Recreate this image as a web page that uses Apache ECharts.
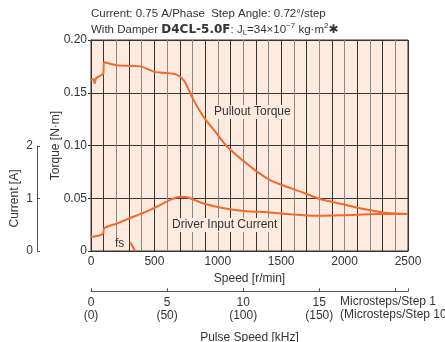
<!DOCTYPE html>
<html><head><meta charset="utf-8">
<script src="https://cdn.jsdelivr.net/npm/echarts@6/dist/echarts.min.js"></script>
<style>html,body{margin:0;padding:0;background:#fff}#c{width:445px;height:342px}</style>
</head><body><div id="c"></div>
<script>
// Pullout torque [N·m] vs speed [r/min]
const torqueSpeed = [0,5,18,29,40,58,84,97,103,203,388,493,572,678,730,770,809,888,967,1073,1205,1311,1416,1495,1680,1812,1996,2181,2339,2500];
const torqueValues = [0.162,0.162,0.163,0.159,0.164,0.165,0.167,0.168,0.179,0.176,0.175,0.170,0.169,0.167,0.162,0.153,0.143,0.127,0.115,0.099,0.085,0.075,0.067,0.063,0.055,0.049,0.044,0.039,0.036,0.035];
// Driver input current [A] vs speed [r/min]
const currentSpeed = [0,71,97,103,203,335,467,520,625,704,757,888,1047,1205,1416,1495,1680,1812,1996,2260,2500];
const currentValues = [0.27,0.30,0.34,0.43,0.52,0.65,0.78,0.84,0.97,1.03,1.02,0.90,0.81,0.76,0.73,0.71,0.68,0.67,0.68,0.70,0.70];
// fs (starting frequency) marker
const fsSpeed = [309,348];
const fsTorque = [0.0082,0];
const speedTicks = [0,500,1000,1500,2000,2500];
const pulseMax = 2500*500/60/1000; // kHz at 2500 r/min, 1 microstep
const torqueTicks = [0,0.05,0.10,0.15,0.20];
const currentTicks = [0,1,2];

const ORANGE = '#f26a2c';
const PEACH = '#fdebdf';
const DARK = '#3a3430';
const GRAY = '#8d8784';
const FONT = '"Liberation Sans", Arial, sans-serif';
const TXT = '#333';
const FS = 12;

const chart = echarts.init(document.getElementById('c'), null, {renderer:'canvas'});
const zip = (a,b)=>a.map((v,i)=>[v,b[i]]);

chart.setOption({
  animation:false,
  textStyle:{fontFamily:FONT},
  grid:[
    {left:91,right:37,top:40,bottom:91,show:true,backgroundColor:PEACH,borderColor:DARK,borderWidth:1,z:0},
    {left:37,width:1,top:146,bottom:91},
    {left:91,right:37,top:291,height:1}
  ],
  xAxis:[
    {gridIndex:0,type:'value',min:0,max:2500,interval:100,
     axisLine:{show:true,lineStyle:{color:DARK,width:1}},
     axisTick:{show:false},
     axisLabel:{color:TXT,fontSize:FS,fontFamily:FONT,margin:5,
       formatter:v=>speedTicks.indexOf(v)>=0?String(v):''},
     splitLine:{show:true,lineStyle:{color:[GRAY,DARK],width:1}},
     name:'Speed [r/min]',nameLocation:'middle',nameGap:17,
     nameTextStyle:{color:TXT,fontSize:FS,fontFamily:FONT}},
    {gridIndex:1,type:'value',min:0,max:1,show:false},
    {gridIndex:2,type:'value',min:0,max:pulseMax,interval:5,
     axisLine:{show:true,lineStyle:{color:'#555',width:1}},
     axisTick:{show:true,inside:true,length:3,lineStyle:{color:'#555'}},
     axisLabel:{color:TXT,fontSize:FS,fontFamily:FONT,margin:5,lineHeight:13,
       formatter:v=>(v%5===0 && v<=15)?(v+'\n('+(v*10)+')'):''},
     splitLine:{show:false},
     name:'Pulse Speed [kHz]',nameLocation:'middle',nameGap:40,
     nameTextStyle:{color:TXT,fontSize:FS,fontFamily:FONT}}
  ],
  yAxis:[
    {gridIndex:0,type:'value',min:0,max:0.2,interval:0.05,
     axisLine:{show:true,lineStyle:{color:DARK}},
     axisTick:{show:true,length:3,lineStyle:{color:DARK}},
     axisLabel:{color:TXT,fontSize:FS,fontFamily:FONT,margin:4,
       formatter:v=>v===0?'0':v.toFixed(2)},
     splitLine:{show:true,lineStyle:{color:DARK,width:1}},
     name:'Torque [N·m]',nameLocation:'middle',nameGap:29,nameRotate:90,nameMoveOverlap:false,
     nameTextStyle:{color:TXT,fontSize:FS,fontFamily:FONT}},
    {gridIndex:1,type:'value',min:0,max:2,interval:1,
     axisLine:{show:true,lineStyle:{color:'#555'}},
     axisTick:{show:true,inside:true,length:3,lineStyle:{color:'#555'}},
     axisLabel:{color:TXT,fontSize:FS,fontFamily:FONT,margin:4},
     splitLine:{show:false},
     name:'Current [A]',nameLocation:'middle',nameGap:16,nameRotate:90,
     nameTextStyle:{color:TXT,fontSize:FS,fontFamily:FONT}},
    {gridIndex:0,type:'value',min:0,max:4,show:false,splitLine:{show:false}},
    {gridIndex:2,type:'value',min:0,max:1,show:false}
  ],
  series:[
    {type:'line',xAxisIndex:0,yAxisIndex:0,data:zip(torqueSpeed,torqueValues),
     showSymbol:false,smooth:0.3,lineStyle:{color:ORANGE,width:2},z:5},
    {type:'line',xAxisIndex:0,yAxisIndex:2,data:zip(currentSpeed,currentValues),
     showSymbol:false,smooth:0.3,lineStyle:{color:ORANGE,width:2},z:5},
    {type:'line',xAxisIndex:0,yAxisIndex:0,data:zip(fsSpeed,fsTorque),
     showSymbol:false,lineStyle:{color:ORANGE,width:2},z:5}
  ],
  graphic:[
    {type:'text',left:91,top:8,z:10,style:{
      text:'Current: 0.75 A/Phase  Step Angle: 0.72°/step',
      font:'11.5px '+FONT,fill:TXT}},
    {type:'text',left:91,top:22,z:10,style:{
      text:'With Damper {b|D4CL-5.0F}: J{sub|L}=34×10{sup|−7} kg·m{sup|2}{b|✱}',
      font:'11.5px '+FONT,fill:TXT,lineHeight:15,
      rich:{
        b:{fontFamily:'"DejaVu Sans", sans-serif',fontWeight:'bold',fontSize:12,fill:TXT,lineHeight:15},
        sub:{fontSize:8,verticalAlign:'bottom',fill:TXT,lineHeight:15},
        sup:{fontSize:8,verticalAlign:'top',fill:TXT,lineHeight:15}
      }}},
    {type:'text',left:212,top:105,z:10,style:{
      text:'Pullout Torque',font:'12px '+FONT,fill:TXT,
      backgroundColor:PEACH,padding:[1,2]}},
    {type:'text',left:170,top:218,z:10,style:{
      text:'Driver Input Current',font:'12px '+FONT,fill:TXT,
      backgroundColor:PEACH,padding:[1,2]}},
    {type:'text',left:114,top:238,z:10,style:{
      text:'fs',font:'12px '+FONT,fill:TXT,
      backgroundColor:PEACH,padding:[0,1]}},
    {type:'text',left:340,top:295,z:10,style:{
      text:'Microsteps/Step 1\n(Microsteps/Step 10',font:'12px '+FONT,fill:TXT,lineHeight:13}}
  ]
});
</script></body></html>
